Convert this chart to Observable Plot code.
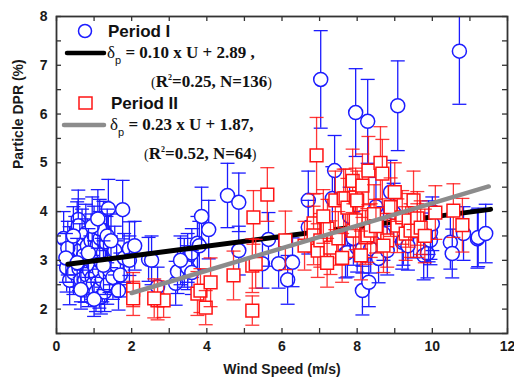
<!DOCTYPE html>
<html><head><meta charset="utf-8">
<script src="https://cdn.jsdelivr.net/npm/d3@7"></script>
<script src="https://cdn.jsdelivr.net/npm/@observablehq/plot@0.6"></script>
<style>body{margin:0;background:#fff;}</style>
</head><body><div id="chart"></div>
<script>
// ---------- DATA ----------
// Period I: [wind speed (m/s), particle DPR (%), error]
const period1Points = [
[0.19,3.45,0.55],[0.27,2.85,0.5],[0.35,3.14,0.55],[0.35,2.59,0.5],[0.40,3.05,0.5],[0.45,2.75,0.45],
[0.50,3.30,0.6],[0.55,3.60,0.6],[0.58,3.84,0.6],[0.58,3.71,0.55],[0.60,2.83,0.45],[0.62,3.20,0.55],
[0.65,2.60,0.45],[0.68,3.45,0.6],[0.70,2.95,0.5],[0.72,3.10,0.5],[0.75,2.59,0.45],[0.78,3.55,0.6],
[0.80,2.70,0.45],[0.82,3.30,0.55],[0.85,2.45,0.4],[0.88,2.79,0.45],[0.90,3.00,0.5],[0.92,3.40,0.55],
[0.95,2.65,0.45],[0.98,2.52,0.4],[1.00,3.51,0.6],[1.00,2.90,0.5],[1.02,3.15,0.5],[1.05,2.35,0.4],
[1.05,2.70,0.45],[1.08,3.30,0.55],[1.10,2.55,0.45],[1.12,3.05,0.5],[1.14,2.79,0.45],[1.14,2.42,0.4],
[1.16,3.45,0.55],[1.18,2.25,0.35],[1.20,2.95,0.5],[1.22,2.60,0.45],[1.25,3.61,0.6],[1.25,3.15,0.5],
[1.28,2.35,0.4],[1.30,2.75,0.45],[1.33,3.35,0.55],[1.35,2.50,0.4],[1.38,4.06,0.6],[1.41,2.79,0.45],
[1.45,3.00,0.5],[1.50,2.65,0.45],[1.55,3.20,0.5],[1.60,2.90,0.5],[1.65,2.38,0.4],[1.70,2.70,0.45],
[1.76,4.04,0.6],[1.80,3.05,0.5],[1.94,3.24,0.55],[1.94,3.00,0.5],[2.08,3.30,0.5],[1.15,3.65,0.6],
[0.30,3.25,0.55],[0.45,3.50,0.6],[0.95,3.70,0.6],[1.35,3.50,0.55],[0.25,3.05,0.5],[0.55,2.95,0.5],
[0.85,3.15,0.5],[1.10,3.85,0.6],[1.45,3.40,0.55],[0.65,2.40,0.4],[1.00,2.20,0.35],[1.25,2.90,0.5],
[2.45,3.02,0.45],[2.53,3.00,0.5],[2.69,2.46,0.4],[3.17,2.53,0.45],[3.22,2.77,0.45],[3.40,2.95,0.5],
[3.49,3.05,0.5],[3.49,2.85,0.45],[3.60,3.15,0.5],[3.75,3.35,0.55],[3.80,3.30,0.5],[3.86,3.90,0.6],
[4.05,3.63,0.6],[4.55,4.33,0.66],[4.85,4.19,0.6],[4.85,3.20,0.5],[3.30,3.00,0.5],[3.60,2.75,0.45],
[5.48,2.93,0.5],[5.64,3.43,0.55],[5.91,2.93,0.5],[6.15,2.60,0.5],[6.28,2.96,0.5],[6.70,4.23,0.6],
[6.70,3.68,0.55],[7.03,6.71,1.0],[7.34,4.27,0.65],[7.40,4.84,0.72],[7.69,3.14,0.5],[7.74,3.16,0.5],
[7.96,6.03,0.9],[8.00,3.26,0.5],[8.14,2.38,0.5],[8.14,3.24,0.5],[8.28,5.85,0.86],[8.31,2.55,0.5],
[8.36,3.24,0.5],[8.57,3.04,0.5],[8.89,4.40,0.65],[8.97,3.98,0.6],[9.08,6.17,0.92],[9.20,3.37,0.55],
[9.23,3.40,0.5],[9.77,3.10,0.5],[9.87,3.14,0.5],[9.90,3.67,0.55],[9.90,3.47,0.5],[9.95,3.41,0.5],
[9.95,3.57,0.55],[10.48,3.37,0.55],[10.53,3.14,0.5],[10.72,7.29,1.09],[10.83,3.55,0.55],[11.20,3.44,0.6],
[11.22,3.47,0.6],[11.42,3.55,0.6],[7.80,3.90,0.6],[8.50,4.10,0.6],[9.50,3.60,0.55],[8.70,3.55,0.55],
[9.35,3.30,0.5],[10.00,3.75,0.55],[8.80,3.20,0.5],[7.90,3.45,0.55]
];
// Period II: [wind speed (m/s), particle DPR (%), error]
const period2Points = [
[2.04,2.40,0.35],[2.04,2.22,0.35],[2.69,2.18,0.4],[2.85,2.18,0.35],[2.60,2.22,0.4],[3.75,2.32,0.45],
[3.83,2.38,0.45],[3.97,2.03,0.35],[4.10,2.55,0.5],[4.71,2.69,0.5],[5.21,2.89,0.55],[5.24,3.88,0.55],
[5.21,1.97,0.3],[5.61,4.35,0.55],[6.09,3.41,0.6],[6.84,3.76,0.6],[6.84,3.51,0.6],[6.92,5.15,0.78],
[6.95,3.20,0.55],[7.02,3.41,0.55],[7.21,3.65,0.6],[7.29,3.26,0.55],[7.42,4.23,0.6],[7.64,4.27,0.6],
[7.69,4.27,0.6],[7.74,4.08,0.6],[7.88,4.63,0.65],[7.90,3.61,0.55],[7.96,4.29,0.6],[7.96,3.82,0.6],
[8.00,4.23,0.6],[8.14,4.53,0.65],[8.22,3.47,0.55],[8.27,3.51,0.55],[8.30,4.84,0.7],[8.36,3.61,0.55],
[8.62,5.00,0.74],[8.67,4.78,0.7],[8.80,3.41,0.55],[8.89,4.09,0.6],[9.07,3.71,0.55],[9.20,3.88,0.55],
[9.29,3.55,0.55],[9.37,3.82,0.55],[9.42,3.61,0.55],[9.50,4.23,0.6],[9.60,3.86,0.55],[9.60,3.61,0.55],
[9.69,3.67,0.55],[10.08,3.98,0.55],[10.56,4.02,0.55],[10.80,3.72,0.55],[7.10,3.90,0.55],[7.50,3.45,0.55],
[8.45,3.95,0.6],[9.00,4.40,0.6],[9.80,3.50,0.55],[6.60,3.30,0.5],[7.20,2.95,0.5],[8.10,3.10,0.5],
[8.50,3.70,0.55],[7.60,3.05,0.5],[5.30,2.93,0.5],[8.70,3.30,0.55]
];
// linear fits [slope, intercept, xStart, xEnd]
const fit1 = [0.10, 2.89, 0.3, 11.55];
const fit2 = [0.23, 1.87, 2.0, 11.5];
const xTickLabels = [0, 2, 4, 6, 8, 10, 12];
const xMinorTicks = [1, 3, 5, 7, 9, 11];
const yTickLabels = [2, 3, 4, 5, 6, 7, 8];
const yMinorTicks = [1.5, 2.5, 3.5, 4.5, 5.5, 6.5, 7.5];
const legend1 = {name: "Period I", coef: "0.10", icpt: "2.89 ,", r2: "0.25", n: "136"};
const legend2 = {name: "Period II", coef: "0.23", icpt: "1.87,", r2: "0.52", n: "64"};

// ---------- STYLE / LAYOUT ----------
const BLUE = "#1c1cff", RED = "#ff1414", GRAY = "#8c8c8c";
const W = 514, H = 382;
const M = {top: 16, right: 7, bottom: 49, left: 56};
const innerW = W - M.left - M.right, innerH = H - M.top - M.bottom;
const TICK = 5;

const p1 = period1Points.map(([x, y, e]) => ({x, y, e}));
const p2 = period2Points.map(([x, y, e]) => ({x, y, e}));
const fitLine = ([a, b, x0, x1]) => [x0, x1].map(x => ({x, y: a * x + b}));
const capSymbol = {draw(ctx, size) { const r = Math.sqrt(size / Math.PI); ctx.moveTo(-r, 0); ctx.lineTo(r, 0); }};

// each point: its error bar, then its symbol (drawn point by point, like the original)
function pointMarks(data, color, opacity, symbol, r) {
  const marks = [];
  for (const d of data) {
    const one = [d];
    marks.push(
      Plot.ruleX(one, {x: "x", y1: v => v.y - v.e, y2: v => v.y + v.e, stroke: color, strokeWidth: 1.3, strokeOpacity: opacity, clip: true}),
      Plot.dot(one, {x: "x", y: v => v.y + v.e, symbol: capSymbol, r: 7, fill: "none", stroke: color, strokeWidth: 1.3, strokeOpacity: opacity, clip: true}),
      Plot.dot(one, {x: "x", y: v => v.y - v.e, symbol: capSymbol, r: 7, fill: "none", stroke: color, strokeWidth: 1.3, strokeOpacity: opacity, clip: true}),
      Plot.dot(one, {x: "x", y: "y", symbol, r, fill: "white", stroke: color, strokeWidth: 1.5})
    );
  }
  return marks;
}

const plot = Plot.plot({
  width: W, height: H,
  marginTop: M.top, marginRight: M.right, marginBottom: M.bottom, marginLeft: M.left,
  x: {domain: [0, 12]},
  y: {domain: [1.5, 8]},
  style: {fontFamily: "'Liberation Sans', Arial, sans-serif", fontSize: "14px", fontWeight: "bold", background: "white", color: "#1a1a1a", overflow: "visible"},
  marks: [
    ...pointMarks(p1, BLUE, 1, "circle", 7),
    Plot.line(fitLine(fit1), {x: "x", y: "y", stroke: "black", strokeWidth: 5}),
    ...pointMarks(p2, RED, 0.85, "square", 7.2),
    Plot.line(fitLine(fit2), {x: "x", y: "y", stroke: GRAY, strokeWidth: 4.5}),
    // inward ticks on all four sides
    Plot.tickX([...xTickLabels, ...xMinorTicks], {x: d => d, insetTop: innerH - TICK, stroke: "#333", strokeWidth: 1.3}),
    Plot.tickX([...xTickLabels, ...xMinorTicks], {x: d => d, insetBottom: innerH - TICK, stroke: "#333", strokeWidth: 1.3}),
    Plot.tickY([...yTickLabels, ...yMinorTicks], {y: d => d, insetRight: innerW - TICK, stroke: "#333", strokeWidth: 1.3}),
    Plot.tickY([...yTickLabels, ...yMinorTicks], {y: d => d, insetLeft: innerW - TICK, stroke: "#333", strokeWidth: 1.3}),
    Plot.frame({stroke: "#333", strokeWidth: 1.8}),
    Plot.axisX({ticks: xTickLabels, tickFormat: d => String(d), tickSize: 0, tickPadding: 8, label: null}),
    Plot.axisY({ticks: yTickLabels, tickFormat: d => String(d), tickSize: 0, tickPadding: 9, label: null}),
    Plot.text(["Wind Speed (m/s)"], {text: d => d, frameAnchor: "bottom", dy: 40}),
    Plot.text(["Particle DPR (%)"], {text: d => d, frameAnchor: "left", rotate: -90, dx: -38, dy: -6})
  ]
});
document.getElementById("chart").appendChild(plot);

// ---------- LEGEND (inside the frame, top-left) ----------
const svg = d3.select(plot);
const lg = svg.append("g").attr("fill", "#111").attr("text-anchor", "start");
function legendEntry(g, ent, y0, symbol, lineColor, lineX0, textX, statX) {
  if (symbol === "circle") {
    g.append("circle").attr("cx", 85).attr("cy", y0).attr("r", 6.5).attr("fill", "white").attr("stroke", BLUE).attr("stroke-width", 1.5);
  } else {
    g.append("rect").attr("x", 79).attr("y", y0 - 6).attr("width", 13).attr("height", 12).attr("fill", "white").attr("stroke", RED).attr("stroke-width", 1.5);
  }
  g.append("text").attr("x", symbol === "circle" ? 108 : 111).attr("y", y0 + 5.5)
    .attr("font-family", "'Liberation Sans', Arial, sans-serif").attr("font-size", 17).attr("font-weight", "bold").text(ent.name);
  const ly = y0 + 22;
  g.append("line").attr("x1", lineX0).attr("x2", 104).attr("y1", ly).attr("y2", ly).attr("stroke", lineColor).attr("stroke-width", 4.5).attr("stroke-linecap", "round");
  const t = g.append("text").attr("x", textX).attr("y", ly + 5)
    .attr("font-family", "'Liberation Serif', 'Times New Roman', serif").attr("font-size", 17).attr("font-weight", "bold");
  t.append("tspan").attr("font-weight", "normal").text("δ");
  t.append("tspan").attr("dy", 6).attr("font-size", 11).attr("font-family", "'Liberation Sans', Arial, sans-serif").attr("font-weight", "normal").text("p");
  t.append("tspan").attr("dy", -6).text(` = ${ent.coef} x U + ${ent.icpt}`);
  const s = g.append("text").attr("x", statX).attr("y", ly + 34)
    .attr("font-family", "'Liberation Serif', 'Times New Roman', serif").attr("font-size", 17).attr("font-weight", "bold");
  s.append("tspan").attr("font-weight", "normal").attr("font-size", 14).text("(");
  s.append("tspan").text("R");
  s.append("tspan").attr("dy", -7).attr("font-size", 8).text("2");
  s.append("tspan").attr("dy", 7).text(`=${ent.r2}, N=${ent.n}`);
  s.append("tspan").attr("font-weight", "normal").attr("font-size", 14).text(")");
}
legendEntry(lg, legend1, 31, "circle", "black", 67, 107, 151);
legendEntry(lg, legend2, 103, "square", GRAY, 64, 110, 144);
</script>
</body></html>
